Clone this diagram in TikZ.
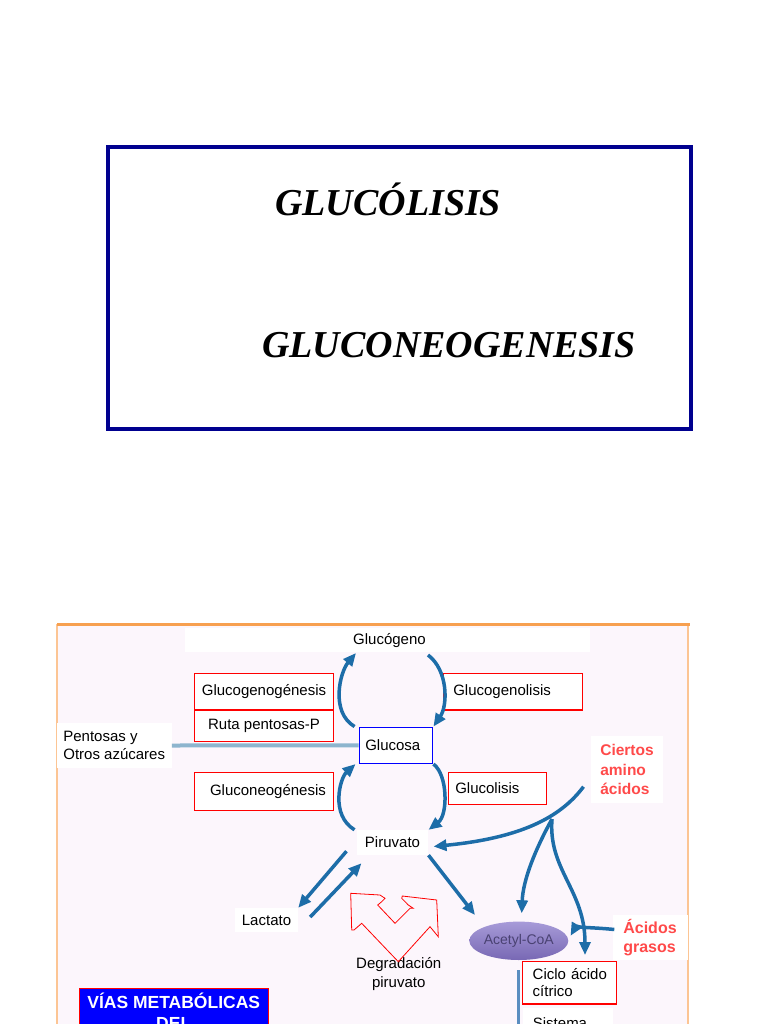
\documentclass[tikz,border=0pt]{standalone}
\usepackage{fontspec}
\setmainfont{Liberation Serif}
\setsansfont{Liberation Sans}
\usetikzlibrary{arrows.meta,shapes.geometric}

\definecolor{marino}{HTML}{00008F}
\definecolor{azulflecha}{HTML}{1D6DA8}
\definecolor{azulclaro}{HTML}{8DB5CE}
\definecolor{azullinea}{HTML}{5A8EC0}
\definecolor{fondolila}{HTML}{FCF6FC}
\definecolor{naranja}{HTML}{F7A050}
\definecolor{naranjaclaro}{HTML}{FCC594}
\definecolor{rojotexto}{HTML}{FF4A4A}
\definecolor{lilaclaro}{HTML}{A79BD8}
\definecolor{lilaoscuro}{HTML}{7868B4}
\definecolor{textoacetil}{HTML}{4A4272}

\begin{document}
\begin{tikzpicture}[x=1pt,y=-1pt]
  \tikzstyle{caja}=[draw=red,fill=white,line width=1.5pt,inner sep=0pt]
  \tikzstyle{rotulo}=[font=\sffamily\fontsize{15}{18.4}\selectfont,inner sep=0pt]
  \tikzstyle{rotulorojo}=[font=\sffamily\bfseries\fontsize{15.5}{19.5}\selectfont,text=rojotexto,fill=white,align=left,inner sep=0pt]
  \tikzstyle{flechaazul}=[azulflecha,line width=3.5pt,-{Triangle[length=13pt,width=11pt]}]
  \tikzstyle{titulo}=[font=\fontsize{38}{40}\selectfont\bfseries\itshape,anchor=base west,inner sep=0pt]

  \clip (0,0) rectangle (768,1024);
  \fill[white] (0,0) rectangle (768,1024);

  \draw[marino,line width=4pt] (108,147) rectangle (691,429);
  \node[titulo] (glucolisis) at (275,216) {GLUCÓLISIS};
  \node[titulo] (gluconeo) at (262,357) {GLUCONEOGENESIS};

  \fill[fondolila] (57,624) rectangle (688,1030);
  \draw[naranjaclaro,line width=2pt] (57,624) -- (57,1030);
  \draw[naranjaclaro,line width=2pt] (688,624) -- (688,1030);
  \draw[naranja,line width=3pt] (57,624) -- (690,624);
  \fill[white] (185,628) rectangle (590,652);
  \fill[white] (523,1008) rectangle (613,1030);

  \node[rotulo] (glucogeno) at (389.5,641) {Glucógeno};
  \node[caja,rotulo,minimum width=139.4pt,minimum height=36.7pt] (glucogenogenesis) at (264,691.7) {Glucogenogénesis};
  \node[caja,rotulo,minimum width=139.4pt,minimum height=31.7pt] (rutapentosas) at (264,725.8) {Ruta pentosas-P};
  \node[caja,rotulo,minimum height=36.7pt,text width=119pt,inner xsep=10pt,align=left] (glucogenolisis) at (512.8,691.7) {Glucogenolisis};
  \node[caja,rotulo,minimum height=38pt,text width=108pt,inner xsep=15.7pt,align=left] (gluconeogenesis) at (264,791.7) {Gluconeogénesis};
  \node[caja,rotulo,minimum height=31.6pt,text width=84.4pt,inner xsep=7pt,align=left] (glucolisisbox) at (497.5,788.5) {Glucolisis};
  \node[draw=blue,fill=white,line width=1.5pt,rotulo,minimum height=36pt,text width=61.4pt,inner xsep=6pt,align=left] (glucosa) at (396,745.3) {Glucosa};
  \node[rotulo,fill=white,align=left,minimum width=115pt,minimum height=45pt] (pentosas) at (114.2,745.5) {Pentosas y\\Otros azúcares};
  \node[rotulorojo,minimum width=72.6pt,minimum height=67pt] (aminoacidos) at (627,769.7) {Ciertos\\amino\\ácidos};
  \node[rotulo,fill=white,minimum width=71.6pt,minimum height=25pt] (piruvato) at (392.5,842.5) {Piruvato};
  \node[rotulo,fill=white,minimum width=63pt,minimum height=24pt] (lactato) at (266.5,920) {Lactato};
  \node[rotulo,align=center] (degradacion) at (398.7,974) {Degradación\\piruvato};
  \node[ellipse,top color=lilaclaro,bottom color=lilaoscuro,minimum width=85.6pt,minimum height=38.4pt,inner sep=0pt,font=\sffamily\fontsize{14}{16}\selectfont,text=textoacetil] (acetilcoa) at (518.8,940.8) {Acetyl-CoA};
  \node[rotulorojo,font=\sffamily\bfseries\fontsize{16}{19}\selectfont,minimum width=75pt,minimum height=45pt] (acidosgrasos) at (650,937.5) {Ácidos\\grasos};
  \node[caja,rotulo,font=\sffamily\fontsize{15}{16.7}\selectfont,minimum height=42.3pt,text width=82pt,inner xsep=6pt,align=left] (cicloacido) at (569.7,982.8) {\hspace*{4pt}Ciclo ácido\\\hspace*{4pt}cítrico};
  \node[rotulo,anchor=base west] (sistema) at (532.7,1028) {Sistema};
  \node[fill=blue,draw=red,line width=1pt,text=white,font=\sffamily\bfseries\fontsize{17.5}{21}\selectfont,align=center,minimum width=189.3pt,inner ysep=4pt,anchor=north] (vias) at (173.7,988.3) {VÍAS METABÓLICAS\\DEL};

  \coordinate (glucogenoizq) at (356,653);
  \coordinate (glucogenoder) at (428,655);
  \coordinate (ramal) at (552,819);
  \coordinate (acetilarriba) at (521.7,913.3);
  \coordinate (acetilizq) at (475,915);
  \coordinate (cicloarriba) at (585,955);

  \draw[azulclaro,line width=4pt] (pentosas.east) -- (glucosa.west);
  \draw[azullinea,line width=3pt] ([yshift=-10pt]acetilcoa.south) -- ++(0,60);

  \draw[flechaazul] ([xshift=-4pt]glucosa.north west) .. controls (330,712) and (340,672) .. (glucogenoizq);
  \draw[flechaazul] (glucogenoder) .. controls (448,670) and (448,705) .. (glucosa.north east);
  \draw[flechaazul] ([xshift=-2pt]piruvato.north west) .. controls (330,815) and (340,778) .. ([xshift=-3pt]glucosa.south west);
  \draw[flechaazul] (glucosa.south east) .. controls (448,775) and (448,815) .. (piruvato.north east);
  \draw[flechaazul] ([xshift=-7pt,yshift=-17pt]aminoacidos.west) .. controls (560,818) and (520,838) .. ([xshift=5pt,yshift=-4pt]piruvato.east);
  \draw[flechaazul] (ramal) .. controls (535,850) and (523,880) .. (acetilarriba);
  \draw[flechaazul] (ramal) .. controls (548,870) and (585,890) .. (cicloarriba);
  \draw[flechaazul] ([xshift=2pt,yshift=8pt]acidosgrasos.west) .. controls (590,927) and (575,928) .. ([xshift=2pt,yshift=5pt]acetilcoa.east);
  \draw[flechaazul] (piruvato.south east) -- (acetilizq);
  \draw[flechaazul] ([xshift=-10pt,yshift=4pt]piruvato.south west) -- (lactato.north east);
  \draw[flechaazul] ([xshift=12pt,yshift=3pt]lactato.east) -- ([xshift=5pt,yshift=-8pt]piruvato.south west);

  \draw[red,line width=0.8pt] (351.7,930) -- (350.7,893.3) -- (380,895) -- (385,898.3) -- (381.7,901.7)
    -- (377.7,905) -- (395,923.3) -- (410,908.3) -- (413.3,908.3) -- (408.3,905) -- (401.7,898.3)
    -- (402.3,896) -- (436.7,900) -- (438.3,936.7) -- (430,926.7) -- (398.3,961.7) -- (361.7,923.3)
    -- (354,930) -- cycle;
\end{tikzpicture}
\end{document}
